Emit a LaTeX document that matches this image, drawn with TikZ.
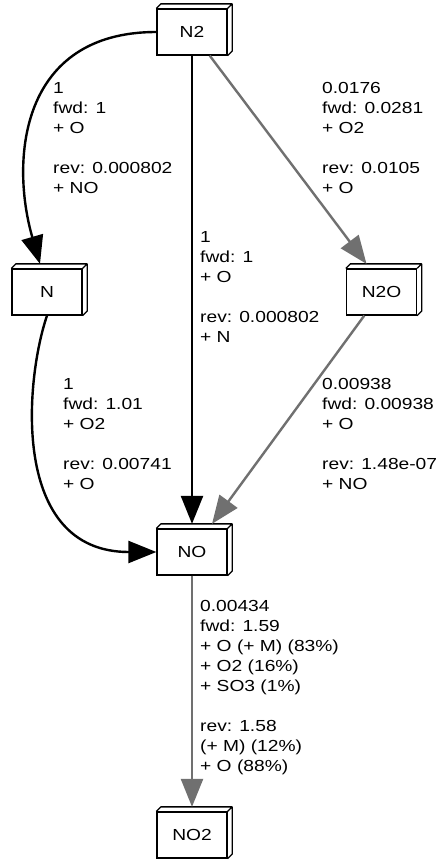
\documentclass[tikz,border=0pt]{standalone}
\usepackage{fontspec}
\newfontfamily\graphfont[FakeStretch=1.2]{Liberation Sans}
\usetikzlibrary{arrows.meta}
\definecolor{fluxgray}{RGB}{112,112,112}
\tikzset{
  species/.style={draw, line width=1.3pt, fill=white, inner sep=0pt, minimum width=70pt, minimum height=46pt,
    font=\graphfont\fontsize{16}{20}\selectfont,
    append after command={\pgfextra{\draw[line width=1.3pt, line join=round]
      (\tikzlastnode.north west) -- ++(4.5pt,4.5pt) -| ([shift={(4.5pt,4.5pt)}]\tikzlastnode.south east)
      -- (\tikzlastnode.south east) (\tikzlastnode.north east) -- ++(4.5pt,4.5pt);}}},
  rxn/.style={anchor=north west, inner sep=0pt, align=left, font=\graphfont\fontsize{16}{20}\selectfont},
  flux/.style={line width=2.4pt, -{Triangle[length=28pt,width=22pt]}},
  fluxgrey/.style={flux, draw=fluxgray, fill=fluxgray}
}
\begin{document}
\begin{tikzpicture}[x=1pt,y=-1pt]
\path[use as bounding box, fill=white] (0,0) rectangle (436,860);
\node[species] (N2) at (192,32) {N2};
\node[species] (N) at (47,292) {N};
\node[species] (N2O) at (381.5,292) {N2O};
\node[species] (NO) at (192,552) {NO};
\node[species] (NO2) at (192,835) {NO2};
\draw[flux] (N2.west) .. controls (20,32) and (10,160) .. ([xshift=-7pt,yshift=4.5pt]N.north);
\draw[flux] (N2) -- ([yshift=4.5pt]NO.north);
\draw[fluxgrey] (N2) -- ([xshift=-15pt,yshift=4.5pt]N2O.north);
\draw[flux] (N.south) .. controls (25,380) and (10,552) .. (NO.west);
\draw[fluxgrey] (N2O) -- ([xshift=20pt,yshift=4.5pt]NO.north);
\draw[fluxgrey] (NO) -- ([yshift=4.5pt]NO2.north);
\node[rxn] (r1) at (53,82.5) {1\\fwd: 1\\+ O\\[20pt]rev: 0.000802\\+ NO};
\node[rxn] (r2) at (200,231.5) {1\\fwd: 1\\+ O\\[20pt]rev: 0.000802\\+ N};
\node[rxn] (r3) at (322,82.5) {0.0176\\fwd: 0.0281\\+ O2\\[20pt]rev: 0.0105\\+ O};
\node[rxn] (r4) at (63,378.5) {1\\fwd: 1.01\\+ O2\\[20pt]rev: 0.00741\\+ O};
\node[rxn] (r5) at (322,378.5) {0.00938\\fwd: 0.00938\\+ O\\[20pt]rev: 1.48e-07\\+ NO};
\node[rxn] (r6) at (200,600.5) {0.00434\\fwd: 1.59\\+ O (+ M) (83\%)\\+ O2 (16\%)\\+ SO3 (1\%)\\[20pt]rev: 1.58\\(+ M) (12\%)\\+ O (88\%)};
\end{tikzpicture}
\end{document}
